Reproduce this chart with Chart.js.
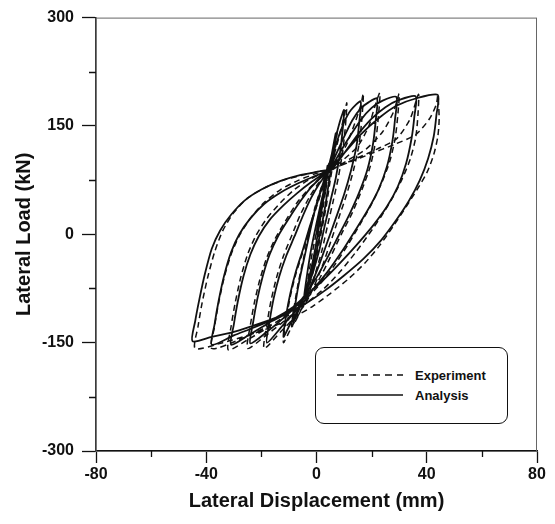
<!DOCTYPE html>
<html>
<head>
<meta charset="utf-8">
<script src="https://cdn.jsdelivr.net/npm/chart.js@4.4.1/dist/chart.umd.min.js"></script>
<style>
  body { margin: 0; background: #fff; }
  #wrap { position: relative; width: 555px; height: 524px; }
  #legend {
    position: absolute; left: 315px; top: 347px; width: 191px; height: 75px;
    border: 1.5px solid #111; border-radius: 9px; background: #fff;
    font: bold 13px "Liberation Sans", Arial, sans-serif; color: #111;
  }
  #legend .row { position: absolute; left: 20px; height: 16px; display: flex; align-items: center; }
  #legend svg { width: 68px; height: 6px; margin-right: 11px; }
</style>
</head>
<body>
<div id="wrap">
  <canvas id="c" width="555" height="524"></canvas>
  <div id="legend">
    <div class="row" style="top:19px"><svg><line x1="1" y1="3" x2="67" y2="3" stroke="#111" stroke-width="1.3" stroke-dasharray="7 5"/></svg>Experiment</div>
    <div class="row" style="top:39px"><svg><line x1="1" y1="3" x2="67" y2="3" stroke="#111" stroke-width="1.3"/></svg>Analysis</div>
  </div>
</div>
<script>
/* ----- data (mm, kN), one branch per line ----- */
const xTicks = [-80, -40, 0, 40, 80];
const yTicks = [-300, -150, 0, 150, 300];

const anaDisp = [
  0, 1.5, 3, 4,
  3, 1.5, 0, -1.5, -3, -4.5,
  -3.5, -2, 0, 2, 4, 5.5, 7,
  6, 4.5, 3, 1, -1, -3, -5, -7, -8.5,
  -7.5, -6, -4, -2, 0, 2, 4, 6, 7.5, 8.8, 10,
  9.5, 8.5, 7, 5, 3, 1, -1.5, -4, -6.5, -9, -12,
  -11, -9.5, -7.5, -5, -2.5, 0, 2, 4, 6, 8, 10, 12.5, 16,
  15.5, 14.5, 12.5, 10, 7, 4, 1, -2, -5, -8, -12, -18,
  -17, -15.5, -13.5, -11, -8, -5, -2, 1, 4, 7, 10, 13, 16, 19, 22,
  21.5, 20.5, 18.5, 15.5, 12, 8, 4, 0, -4, -8, -12, -18, -24,
  -23, -21.5, -19.5, -17, -14, -10, -6, -2, 2, 5, 8, 12, 16, 20, 24, 29,
  28.5, 27.5, 25.5, 22.5, 18.5, 14, 9, 4, -1, -6, -11, -17, -24, -31,
  -30, -28.5, -26.5, -24, -21, -17, -12, -7, -2, 3, 6, 10, 15, 20, 25, 30, 36,
  35.5, 34.5, 32.5, 29.5, 25.5, 20.5, 14.5, 8, 2, -4, -9, -15, -22, -30, -38,
  -37, -35.5, -33.5, -31, -28, -24, -19, -13, -7, -1, 4, 10, 16, 23, 29, 36, 44,
  43.5, 42.5, 40.5, 37.5, 33.5, 29, 23.5, 17, 10, 3, -4, -12, -21, -30, -38, -45,
  -44, -42.5, -40.5, -38, -35, -31, -26, -20, -13, -6, 1, 4
];
const anaLoad = [
  0, 35, 70, 95,
  62, 25, -10, -40, -65, -88,
  -58, -22, 15, 50, 82, 110, 140,
  108, 72, 35, -5, -42, -70, -92, -110, -122,
  -92, -60, -25, 10, 42, 66, 88, 118, 142, 160, 172,
  145, 112, 78, 45, 12, -22, -55, -82, -104, -120, -142,
  -112, -82, -52, -22, 10, 40, 65, 86, 112, 135, 155, 172, 184,
  155, 122, 88, 55, 22, -10, -42, -70, -92, -108, -125, -150,
  -120, -88, -58, -30, -3, 25, 50, 70, 86, 110, 135, 158, 174, 183, 188,
  158, 125, 90, 58, 28, -2, -32, -60, -83, -102, -116, -135, -151,
  -122, -90, -58, -28, -3, 22, 45, 65, 80, 90, 110, 135, 158, 175, 185, 190,
  160, 128, 93, 62, 33, 5, -25, -52, -75, -95, -110, -122, -138, -153,
  -125, -92, -58, -28, -3, 20, 40, 57, 72, 85, 92, 112, 138, 160, 176, 186, 191,
  163, 133, 98, 66, 38, 12, -15, -42, -65, -85, -102, -116, -128, -140, -153,
  -125, -92, -57, -25, 0, 22, 42, 58, 70, 80, 88, 112, 138, 162, 178, 188, 193,
  165, 135, 105, 75, 46, 20, -8, -34, -57, -78, -96, -111, -124, -135, -142, -148,
  -120, -90, -55, -20, 5, 27, 47, 62, 74, 82, 87, 89
];

const expDisp = [
  0, 1.5, 3, 4.5,
  3.5, 2, 0.5, -1, -2.5, -4,
  -3, -1.5, 0.5, 2.5, 4.5, 6, 7.5,
  6.5, 5, 3.5, 1.5, -0.5, -2.5, -4.5, -6.5, -9,
  -8, -6.5, -4.5, -2.5, -0.5, 1.5, 3.5, 5.5, 7.5, 9.5, 11,
  10.5, 9.5, 8, 6, 4, 2, -0.5, -3, -6, -9, -12,
  -11, -9.5, -7.5, -5, -2.5, 0, 2.5, 5, 8, 11, 14, 16, 17,
  16.5, 15.5, 13.5, 11, 8, 5, 2, -1, -4, -8, -13, -19,
  -18, -16.5, -14.5, -12, -9, -6, -2.5, 1, 5, 10, 15, 19, 21, 23,
  22.5, 21.5, 19.5, 16.5, 13, 9, 5, 1, -3, -8, -13, -19, -25,
  -24, -22.5, -20.5, -18, -15, -11, -7, -2, 2, 6, 12, 18, 24, 28, 30,
  29.5, 28.5, 26.5, 23.5, 20, 16, 11.5, 6.5, 1, -5, -11, -18, -25, -32,
  -31, -29.5, -27.5, -25, -22, -18, -13, -8, -3, 3, 8, 15, 22, 29, 34, 37,
  36.8, 36, 34, 31, 27.5, 23.5, 19, 14, 8.5, 2.5, -4, -11, -19, -28, -38,
  -37, -35.5, -33.5, -31, -28, -24, -19, -13, -7, -1, 5, 12, 20, 28, 36, 41, 43.5, 44,
  44.5, 44, 42.5, 40, 36.5, 32.5, 28, 23, 17.5, 11.5, 5, -1.5, -8, -16, -25, -34, -44,
  -43, -41.5, -39.5, -37, -34, -30, -25, -19, -12, -5, 2
];
const expLoad = [
  0, 32, 65, 98,
  65, 28, -8, -38, -65, -90,
  -60, -25, 12, 48, 80, 110, 142,
  110, 75, 38, -2, -40, -70, -94, -112, -128,
  -98, -65, -30, 5, 38, 62, 82, 100, 125, 155, 182,
  150, 115, 80, 45, 12, -22, -55, -84, -108, -128, -150,
  -118, -86, -55, -25, 8, 38, 66, 88, 104, 125, 155, 178, 195,
  162, 126, 90, 56, 22, -12, -45, -73, -96, -115, -135, -158,
  -125, -92, -60, -30, -2, 26, 52, 72, 88, 104, 122, 150, 175, 196,
  165, 130, 94, 62, 30, 0, -32, -62, -87, -108, -124, -142, -158,
  -126, -94, -62, -32, -6, 20, 44, 66, 80, 90, 104, 118, 142, 170, 195,
  165, 132, 100, 70, 42, 15, -14, -43, -70, -94, -112, -130, -146, -160,
  -128, -95, -60, -28, -2, 22, 44, 62, 75, 86, 94, 106, 118, 132, 160, 194,
  165, 134, 104, 76, 50, 25, 0, -26, -52, -76, -96, -114, -130, -146, -158,
  -128, -95, -60, -28, -2, 22, 44, 62, 74, 83, 90, 100, 112, 124, 138, 160, 180, 192,
  160, 135, 110, 85, 62, 38, 12, -15, -40, -62, -82, -100, -114, -128, -140, -150, -158,
  -128, -95, -60, -25, 5, 30, 50, 64, 75, 82, 88
];

/* ----- helpers ----- */
const toPts = (xs, ys) => xs.map((x, i) => ({x, y: ys[i]}));
const FONT = '"Liberation Sans", Arial, sans-serif';

/* frame (thin top / right edges) + short minor ticks */
const frame = {
  id: 'frame',
  beforeDatasetsDraw(chart){
    const {ctx, chartArea: a} = chart;
    ctx.save();
    ctx.strokeStyle = '#666'; ctx.lineWidth = 1;
    ctx.strokeRect(a.left, a.top + 0.5, a.right - a.left - 0.5, a.bottom - a.top);
    ctx.restore();
  },
  afterDraw(chart){
    const {ctx, chartArea: a, scales: {x, y}} = chart;
    ctx.save();
    ctx.strokeStyle = '#111'; ctx.lineWidth = 1.3;
    ctx.beginPath();
    x.ticks.filter(t => !xTicks.includes(t.value)).forEach(t => {
      const px = Math.round(x.getPixelForValue(t.value)) + 0.5;
      ctx.moveTo(px, a.bottom); ctx.lineTo(px, a.bottom + 6);
    });
    y.ticks.filter(t => !yTicks.includes(t.value)).forEach(t => {
      const py = Math.round(y.getPixelForValue(t.value)) + 0.5;
      ctx.moveTo(a.left, py); ctx.lineTo(a.left - 7, py);
    });
    ctx.stroke();
    ctx.restore();
  }
};

new Chart(document.getElementById('c'), {
  type: 'scatter',
  data: {
    datasets: [
      { label: 'Experiment', data: toPts(expDisp, expLoad), showLine: true,
        borderColor: '#111', borderWidth: 1.5, borderDash: [6, 4],
        pointRadius: 0, tension: 0.25 },
      { label: 'Analysis', data: toPts(anaDisp, anaLoad), showLine: true,
        borderColor: '#111', borderWidth: 1.8,
        pointRadius: 0, tension: 0.25 }
    ]
  },
  options: {
    responsive: false,
    animation: false,
    layout: { padding: { top: 12, right: 18, left: 0, bottom: 0 } },
    plugins: { legend: { display: false }, tooltip: { enabled: false } },
    scales: {
      x: {
        min: -80, max: 80,
        afterFit: s => { s.height = 73; },
        border: { color: '#111', width: 1.5 },
        grid: { drawOnChartArea: false, tickLength: 12, tickWidth: 1.3,
                tickColor: c => xTicks.includes(c.tick.value) ? '#111' : 'rgba(0,0,0,0)' },
        ticks: { stepSize: 20, autoSkip: false, maxRotation: 0, padding: 2, color: '#111',
                 font: { family: FONT, size: 16, weight: 'bold' },
                 callback: v => xTicks.includes(v) ? v : '' },
        title: { display: true, text: 'Lateral Displacement (mm)', color: '#111',
                 font: { family: FONT, size: 20, weight: 'bold' }, padding: { bottom: 11 } }
      },
      y: {
        min: -300, max: 300,
        afterFit: s => { s.width = 96; },
        border: { color: '#111', width: 1.5 },
        grid: { drawOnChartArea: false, tickLength: 14, tickWidth: 1.3,
                tickColor: c => yTicks.includes(c.tick.value) ? '#111' : 'rgba(0,0,0,0)' },
        ticks: { stepSize: 75, autoSkip: false, padding: 8, color: '#111',
                 font: { family: FONT, size: 16, weight: 'bold' },
                 callback: v => yTicks.includes(v) ? v : '' },
        title: { display: true, text: 'Lateral Load (kN)', color: '#111',
                 font: { family: FONT, size: 20, weight: 'bold' }, padding: { top: 12 } }
      }
    }
  },
  plugins: [frame]
});
</script>
</body>
</html>
